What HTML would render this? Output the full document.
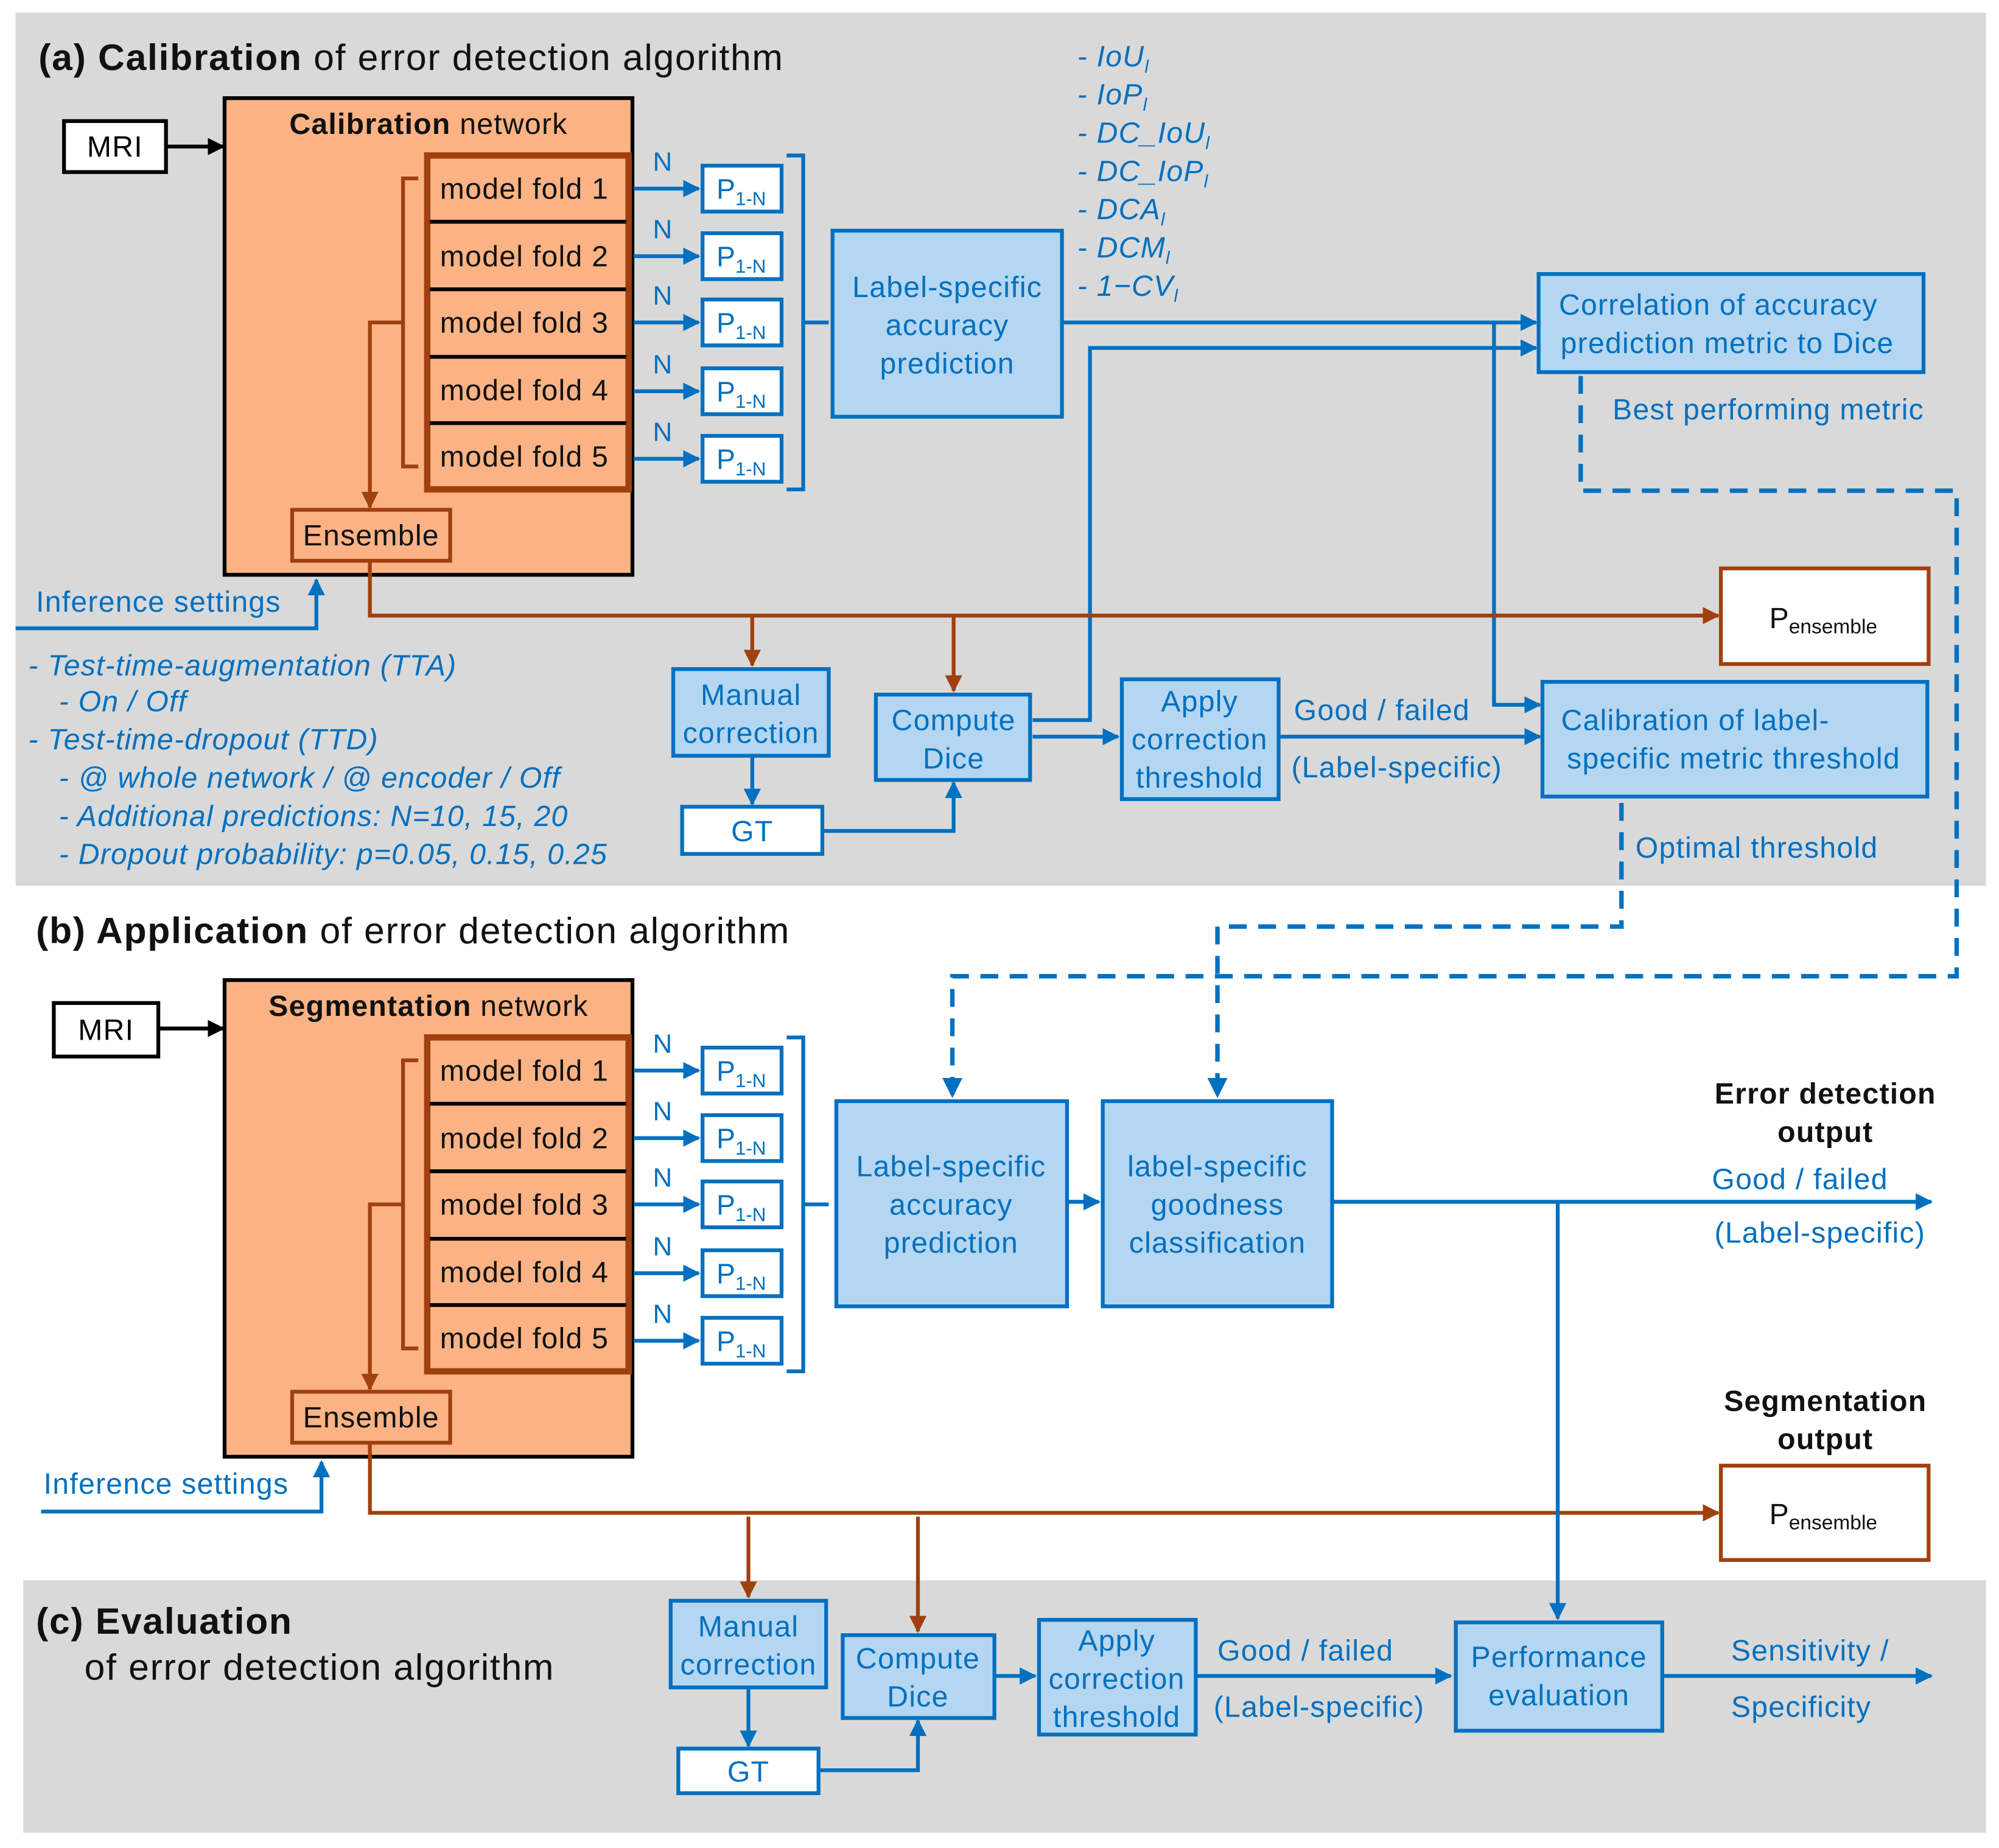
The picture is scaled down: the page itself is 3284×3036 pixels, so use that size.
<!DOCTYPE html>
<html><head><meta charset="utf-8"><style>html,body{margin:0;padding:0;background:#fff}svg{display:block}</style></head>
<body>
<svg width="3284" height="3036" viewBox="0 0 1568 1450" xmlns="http://www.w3.org/2000/svg" font-family="Liberation Sans, sans-serif" letter-spacing="0.6">
<defs>
<marker id="ab" viewBox="0 0 10 10" refX="9" refY="5" markerWidth="4.5" markerHeight="4.5" orient="auto"><path d="M0,0L10,5L0,10z" fill="#0070c0"/></marker>
<marker id="ar" viewBox="0 0 10 10" refX="9" refY="5" markerWidth="4.5" markerHeight="4.5" orient="auto"><path d="M0,0L10,5L0,10z" fill="#a0400f"/></marker>
<marker id="ak" viewBox="0 0 10 10" refX="9" refY="5" markerWidth="4.5" markerHeight="4.5" orient="auto"><path d="M0,0L10,5L0,10z" fill="#000"/></marker>
</defs>
<rect x="12" y="10" width="1546" height="685" fill="#d9d9d9"/>
<rect x="18" y="1240" width="1540" height="198" fill="#d9d9d9"/>

<g font-size="29" fill="#111" letter-spacing="0.8">
<text x="30" y="55"><tspan font-weight="bold">(a) Calibration</tspan> of error detection algorithm</text>
<text x="28" y="740"><tspan font-weight="bold">(b) Application</tspan> of error detection algorithm</text>
<text x="28" y="1282" font-weight="bold">(c) Evaluation</text>
<text x="66" y="1318">of error detection algorithm</text>
</g>

<rect x="50" y="95" width="80" height="40" fill="#fff" stroke="#000" stroke-width="3"/>
<text x="90" y="123" font-size="23" text-anchor="middle">MRI</text>
<line x1="130" y1="115" x2="175" y2="115" stroke="#000" stroke-width="3" marker-end="url(#ak)"/>
<rect x="42" y="787" width="82" height="42" fill="#fff" stroke="#000" stroke-width="3"/>
<text x="83" y="816" font-size="23" text-anchor="middle">MRI</text>
<line x1="124" y1="807" x2="175" y2="807" stroke="#000" stroke-width="3" marker-end="url(#ak)"/>

<g id="net">
<rect x="176" y="77" width="320" height="374" fill="#fbb385" stroke="#000" stroke-width="3"/>
<rect x="335" y="122" width="158" height="262" fill="#fbb385" stroke="#a0400f" stroke-width="5"/>
<g stroke="#000" stroke-width="3"><line x1="337" y1="174" x2="491" y2="174"/><line x1="337" y1="227" x2="491" y2="227"/><line x1="337" y1="280" x2="491" y2="280"/><line x1="337" y1="332" x2="491" y2="332"/></g>
<g font-size="23" fill="#111">
<text x="345" y="156">model fold 1</text><text x="345" y="209">model fold 2</text><text x="345" y="261">model fold 3</text><text x="345" y="314">model fold 4</text><text x="345" y="366">model fold 5</text>
</g>
<path d="M328,140H316V366H328M316,253H290V398" fill="none" stroke="#a0400f" stroke-width="3" marker-end="url(#ar)"/>
<rect x="229" y="400" width="124" height="40" fill="#fbb385" stroke="#a0400f" stroke-width="3"/>
<text x="291" y="428" font-size="23" text-anchor="middle" fill="#111">Ensemble</text>
<g stroke="#0070c0" stroke-width="3" marker-end="url(#ab)">
<line x1="497" y1="148" x2="548" y2="148"/><line x1="497" y1="201" x2="548" y2="201"/><line x1="497" y1="253" x2="548" y2="253"/><line x1="497" y1="307" x2="548" y2="307"/><line x1="497" y1="360" x2="548" y2="360"/>
</g>
<g font-size="21" fill="#0070c0"><text x="512" y="134">N</text><text x="512" y="187">N</text><text x="512" y="239">N</text><text x="512" y="293">N</text><text x="512" y="346">N</text></g>
<g fill="#fff" stroke="#0070c0" stroke-width="3">
<rect x="551" y="130" width="62" height="36"/><rect x="551" y="183" width="62" height="36"/><rect x="551" y="235" width="62" height="36"/><rect x="551" y="289" width="62" height="36"/><rect x="551" y="342" width="62" height="36"/>
</g>
<g font-size="22" fill="#0070c0" letter-spacing="0">
<text x="562" y="156">P<tspan font-size="15" dy="5">1-N</tspan></text>
<text x="562" y="209">P<tspan font-size="15" dy="5">1-N</tspan></text>
<text x="562" y="261">P<tspan font-size="15" dy="5">1-N</tspan></text>
<text x="562" y="315">P<tspan font-size="15" dy="5">1-N</tspan></text>
<text x="562" y="368">P<tspan font-size="15" dy="5">1-N</tspan></text>
</g>
<path d="M617,122H630V384H617M630,253H650" fill="none" stroke="#0070c0" stroke-width="3"/>
</g>
<use href="#net" transform="translate(0,692)"/>

<g font-size="23" text-anchor="middle" fill="#111">
<text x="336" y="105"><tspan font-weight="bold">Calibration</tspan> network</text>
<text x="336" y="797"><tspan font-weight="bold">Segmentation</tspan> network</text>
</g>

<g font-size="23" fill="#0070c0" text-anchor="middle">
<rect x="653" y="181" width="180" height="146" fill="#b4d6f0" stroke="#0070c0" stroke-width="3"/>
<text x="743" y="233">Label-specific</text><text x="743" y="263">accuracy</text><text x="743" y="293">prediction</text>
<rect x="1207" y="215" width="302" height="77" fill="#b4d6f0" stroke="#0070c0" stroke-width="3"/>
<text x="1348" y="247">Correlation of accuracy</text><text x="1355" y="277">prediction metric to Dice</text>
<rect x="1210" y="535" width="302" height="90" fill="#b4d6f0" stroke="#0070c0" stroke-width="3"/>
<text x="1330" y="573">Calibration of label-</text><text x="1360" y="603">specific metric threshold</text>
<rect x="528" y="525" width="122" height="68" fill="#b4d6f0" stroke="#0070c0" stroke-width="3"/>
<text x="589" y="553">Manual</text><text x="589" y="583">correction</text>
<rect x="535" y="633" width="110" height="37" fill="#fff" stroke="#0070c0" stroke-width="3"/>
<text x="590" y="660">GT</text>
<rect x="687" y="545" width="121" height="67" fill="#b4d6f0" stroke="#0070c0" stroke-width="3"/>
<text x="748" y="573">Compute</text><text x="748" y="603">Dice</text>
<rect x="880" y="533" width="123" height="94" fill="#b4d6f0" stroke="#0070c0" stroke-width="3"/>
<text x="941" y="558">Apply</text><text x="941" y="588">correction</text><text x="941" y="618">threshold</text>
</g>
<g font-size="23" fill="#0070c0">
<text x="1015" y="565">Good / failed</text><text x="1013" y="610">(Label-specific)</text>
<text x="1265" y="329">Best performing metric</text>
<text x="1283" y="673">Optimal threshold</text>
<text x="28" y="480">Inference settings</text>
<text x="34" y="1172">Inference settings</text>
</g>
<g font-size="23" fill="#0070c0" font-style="italic">
<text x="845" y="52">- IoU<tspan font-size="14" dy="5">l</tspan></text>
<text x="845" y="82">- IoP<tspan font-size="14" dy="5">l</tspan></text>
<text x="845" y="112">- DC_IoU<tspan font-size="14" dy="5">l</tspan></text>
<text x="845" y="142">- DC_IoP<tspan font-size="14" dy="5">l</tspan></text>
<text x="845" y="172">- DCA<tspan font-size="14" dy="5">l</tspan></text>
<text x="845" y="202">- DCM<tspan font-size="14" dy="5">l</tspan></text>
<text x="845" y="232">- 1−CV<tspan font-size="14" dy="5">l</tspan></text>
<text x="22" y="530">-  Test-time-augmentation (TTA)</text>
<text x="46" y="558">-  On / Off</text>
<text x="22" y="588">-  Test-time-dropout (TTD)</text>
<text x="46" y="618">-  @ whole network / @ encoder / Off</text>
<text x="46" y="648">-  Additional predictions: N=10, 15, 20</text>
<text x="46" y="678">-  Dropout probability: p=0.05, 0.15, 0.25</text>
</g>
<g stroke="#0070c0" stroke-width="3" fill="none" marker-end="url(#ab)">
<line x1="833" y1="253" x2="1205" y2="253"/>
<path d="M810,565H855V273H1205"/>
<path d="M1172,253V553H1208"/>
<line x1="810" y1="578" x2="877" y2="578"/>
<line x1="1003" y1="578" x2="1208" y2="578"/>
<line x1="590" y1="594" x2="590" y2="631"/>
<path d="M645,652H748V614"/>
<path d="M12,493H248V455"/>
<path d="M32,1186H252V1147"/>
</g>
<g stroke="#0070c0" stroke-width="3.5" fill="none" stroke-dasharray="14,9" marker-end="url(#ab)">
<path d="M1240,295V385H1535V766H747V860"/>
<path d="M1272,630V727H955V860"/>
</g>
<g stroke="#a0400f" stroke-width="3" fill="none" marker-end="url(#ar)">
<path d="M290,441V483H1348"/>
<line x1="590" y1="483" x2="590" y2="522"/>
<line x1="748" y1="483" x2="748" y2="542"/>
<path d="M290,1133V1187H1348"/>
<line x1="587" y1="1190" x2="587" y2="1253"/>
<line x1="720" y1="1190" x2="720" y2="1280"/>
</g>
<g fill="#fff" stroke="#a0400f" stroke-width="3">
<rect x="1350" y="446" width="163" height="75"/><rect x="1350" y="1150" width="163" height="74"/>
</g>
<g font-size="23" fill="#111" letter-spacing="0">
<text x="1388" y="493">P<tspan font-size="16" dy="4">ensemble</tspan></text>
<text x="1388" y="1196">P<tspan font-size="16" dy="4">ensemble</tspan></text>
</g>
<g font-size="23" font-weight="bold" fill="#111" text-anchor="middle">
<text x="1432" y="866">Error detection</text><text x="1432" y="896">output</text>
<text x="1432" y="1107">Segmentation</text><text x="1432" y="1137">output</text>
</g>

<g font-size="23" fill="#0070c0" text-anchor="middle">
<rect x="656" y="864" width="181" height="161" fill="#b4d6f0" stroke="#0070c0" stroke-width="3"/>
<text x="746" y="923">Label-specific</text><text x="746" y="953">accuracy</text><text x="746" y="983">prediction</text>
<rect x="865" y="864" width="180" height="161" fill="#b4d6f0" stroke="#0070c0" stroke-width="3"/>
<text x="955" y="923">label-specific</text><text x="955" y="953">goodness</text><text x="955" y="983">classification</text>
<rect x="526" y="1256" width="122" height="68" fill="#b4d6f0" stroke="#0070c0" stroke-width="3"/>
<text x="587" y="1284">Manual</text><text x="587" y="1314">correction</text>
<rect x="532" y="1372" width="110" height="35" fill="#fff" stroke="#0070c0" stroke-width="3"/>
<text x="587" y="1398">GT</text>
<rect x="661" y="1283" width="119" height="65" fill="#b4d6f0" stroke="#0070c0" stroke-width="3"/>
<text x="720" y="1309">Compute</text><text x="720" y="1339">Dice</text>
<rect x="815" y="1271" width="123" height="90" fill="#b4d6f0" stroke="#0070c0" stroke-width="3"/>
<text x="876" y="1295">Apply</text><text x="876" y="1325">correction</text><text x="876" y="1355">threshold</text>
<rect x="1142" y="1273" width="162" height="85" fill="#b4d6f0" stroke="#0070c0" stroke-width="3"/>
<text x="1223" y="1308">Performance</text><text x="1223" y="1338">evaluation</text>
</g>
<g font-size="23" fill="#0070c0">
<text x="1343" y="933">Good / failed</text><text x="1345" y="975">(Label-specific)</text>
<text x="955" y="1303">Good / failed</text><text x="952" y="1347">(Label-specific)</text>
<text x="1358" y="1303">Sensitivity /</text><text x="1358" y="1347">Specificity</text>
</g>
<g stroke="#0070c0" stroke-width="3" fill="none" marker-end="url(#ab)">
<line x1="837" y1="943" x2="862" y2="943"/>
<line x1="1045" y1="943" x2="1515" y2="943"/>
<line x1="1222" y1="943" x2="1222" y2="1270"/>
<line x1="587" y1="1325" x2="587" y2="1370"/>
<path d="M642,1389H720V1350"/>
<line x1="780" y1="1315" x2="812" y2="1315"/>
<line x1="938" y1="1315" x2="1138" y2="1315"/>
<line x1="1304" y1="1315" x2="1515" y2="1315"/>
</g>
</svg>
</body></html>
